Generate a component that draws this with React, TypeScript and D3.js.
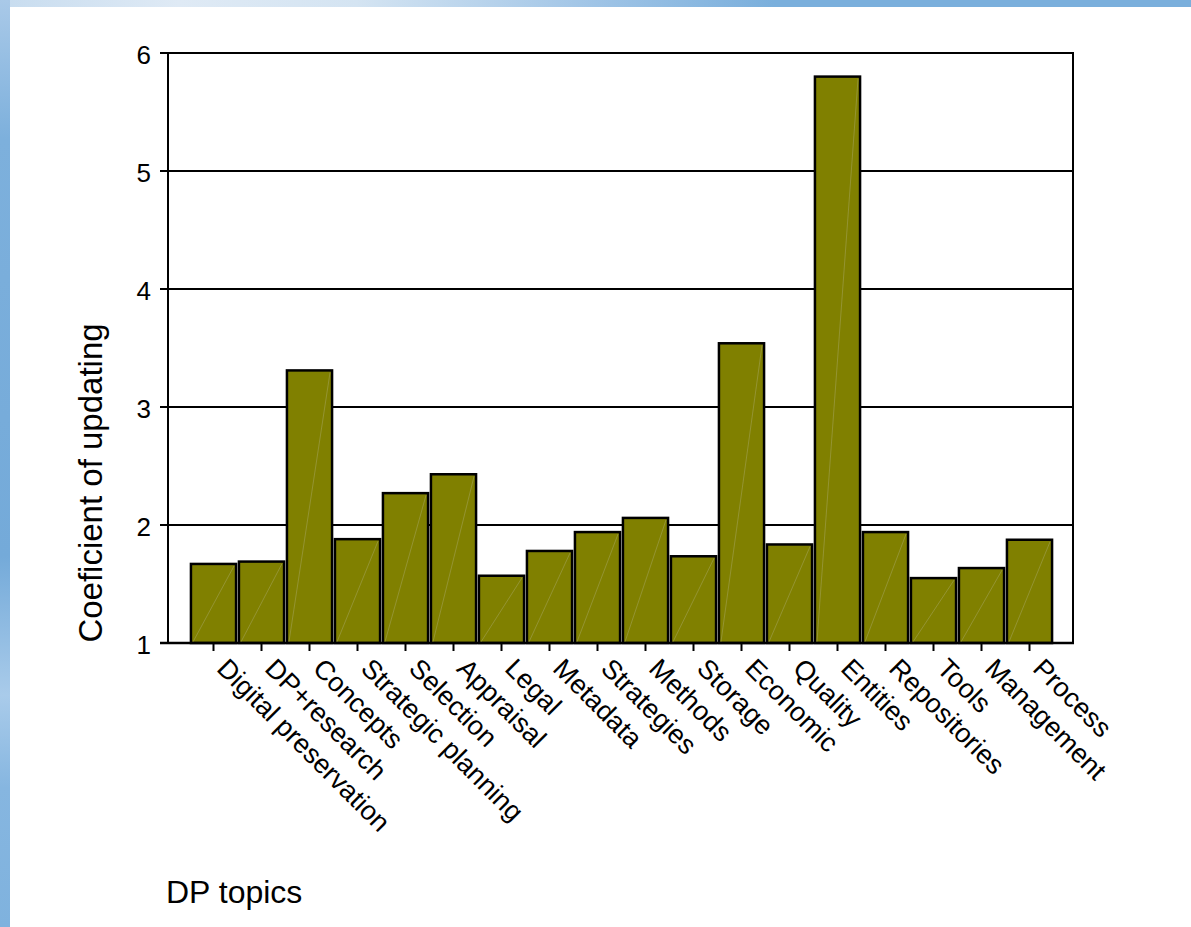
import React from "react";
import * as d3 from "d3";

const categories: string[] = [
  "Digital preservation",
  "DP+research",
  "Concepts",
  "Strategic planning",
  "Selection",
  "Appraisal",
  "Legal",
  "Metadata",
  "Strategies",
  "Methods",
  "Storage",
  "Economic",
  "Quality",
  "Entities",
  "Repositories",
  "Tools",
  "Management",
  "Process",
];

const values: number[] = [
  1.67, 1.69, 3.31, 1.88, 2.27, 2.43, 1.57, 1.78, 1.94, 2.06, 1.735, 3.54,
  1.835, 5.8, 1.94, 1.55, 1.635, 1.875,
];

const yTicks: number[] = [1, 2, 3, 4, 5, 6];
const yTitle = "Coeficient of updating";
const xTitle = "DP topics";

const W = 1191;
const H = 927;
const FONT = "'Liberation Sans', Arial, Helvetica, sans-serif";

export default function App() {
  const plotLeft = 168;
  const plotRight = 1073;
  const y = d3.scaleLinear().domain([1, 6]).range([643, 53]);
  const x = d3
    .scaleBand<string>()
    .domain(categories)
    .range([189.5, 1053.5])
    .paddingInner(0.06)
    .paddingOuter(0.03);
  const bw = x.bandwidth();
  const base = y(1);
  const top = y(6);

  return (
    <svg
      width={W}
      height={H}
      viewBox={`0 0 ${W} ${H}`}
      style={{ position: "absolute", left: 0, top: 0, display: "block", background: "#fff" }}
    >
      <defs>
        <linearGradient id="leftStrip" x1="0" y1="0" x2="0" y2="1">
          <stop offset="0" stopColor="#a9c9e8" />
          <stop offset="0.15" stopColor="#7db0dc" />
          <stop offset="0.6" stopColor="#74aad9" />
          <stop offset="0.75" stopColor="#a9cbea" />
          <stop offset="0.85" stopColor="#86b6e0" />
          <stop offset="1" stopColor="#7fb2de" />
        </linearGradient>
        <linearGradient id="topStrip" x1="0" y1="0" x2="1" y2="0">
          <stop offset="0" stopColor="#c7dcef" />
          <stop offset="0.15" stopColor="#dfeaf5" />
          <stop offset="0.3" stopColor="#d4e4f2" />
          <stop offset="0.5" stopColor="#9fc4e6" />
          <stop offset="0.65" stopColor="#7aafdc" />
          <stop offset="1" stopColor="#7aafdc" />
        </linearGradient>
      </defs>
      <rect x={0} y={0} width={W} height={H} fill="#ffffff" />
      <rect x={0} y={0} width={W} height={7} fill="url(#topStrip)" />
      <rect x={0} y={0} width={10} height={H} fill="url(#leftStrip)" />

      {/* gridlines */}
      {yTicks
        .filter((t) => t > 1)
        .map((t) => (
          <line
            key={"g" + t}
            x1={plotLeft}
            x2={plotRight}
            y1={y(t)}
            y2={y(t)}
            stroke="#000"
            strokeWidth={2}
          />
        ))}
      {/* right border */}
      <line x1={plotRight} x2={plotRight} y1={top - 1} y2={base} stroke="#000" strokeWidth={2} />

      {/* bars */}
      {categories.map((c, i) => {
        const x0 = x(c) as number;
        const yv = y(values[i]);
        return (
          <g key={c}>
            <rect
              x={x0}
              y={yv}
              width={bw}
              height={base - yv}
              fill="#808000"
              stroke="#000"
              strokeWidth={2.5}
            />
            <line
              x1={x0 + 2}
              y1={base - 1}
              x2={x0 + bw - 2}
              y2={yv + 2}
              stroke="#9c9c48"
              strokeWidth={0.7}
            />
          </g>
        );
      })}

      {/* y axis */}
      <line x1={plotLeft} x2={plotLeft} y1={top - 1} y2={base + 1} stroke="#000" strokeWidth={2} />
      {yTicks.map((t) => (
        <g key={"t" + t}>
          <line x1={plotLeft - 8} x2={plotLeft} y1={y(t)} y2={y(t)} stroke="#000" strokeWidth={2} />
          <text
            x={151}
            y={y(t)}
            dy="0.42em"
            textAnchor="end"
            fontFamily={FONT}
            fontSize={26}
            fill="#000"
          >
            {t}
          </text>
        </g>
      ))}

      {/* x axis */}
      <line x1={plotLeft - 8} x2={plotRight + 1} y1={base} y2={base} stroke="#000" strokeWidth={2.5} />
      {categories.map((c) => {
        const cx = (x(c) as number) + bw / 2;
        return (
          <g key={"xt" + c}>
            <line x1={cx} x2={cx} y1={base} y2={base + 8} stroke="#000" strokeWidth={2} />
            <text
              transform={`translate(${cx + 2},${base + 27}) rotate(45)`}
              textAnchor="start"
              fontFamily={FONT}
              fontSize={27}
              fill="#000"
            >
              {c}
            </text>
          </g>
        );
      })}

      {/* titles */}
      <text
        transform={`translate(102,483) rotate(-90)`}
        textAnchor="middle"
        fontFamily={FONT}
        fontSize={33}
        fill="#000"
      >
        {yTitle}
      </text>
      <text x={166} y={903} fontFamily={FONT} fontSize={32} fill="#000">
        {xTitle}
      </text>
    </svg>
  );
}
